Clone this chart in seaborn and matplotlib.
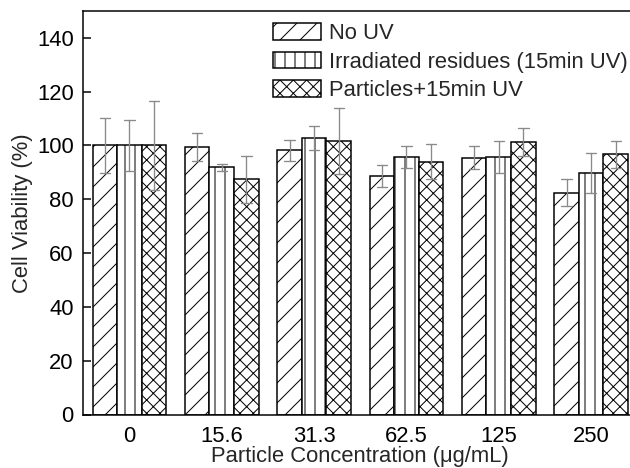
import numpy as np
import pandas as pd
import matplotlib
matplotlib.use("Agg")
import matplotlib.pyplot as plt
import seaborn as sns
from matplotlib.patches import Patch

concentrations = ["0", "15.6", "31.3", "62.5", "125", "250"]
series = ["No UV", "Irradiated residues (15min UV)", "Particles+15min UV"]
no_uv_mean = [100.0, 99.6, 98.2, 88.7, 95.4, 82.5]
no_uv_sd = [10.3, 5.2, 3.8, 4.2, 4.3, 4.9]
irr_mean = [100.0, 91.9, 102.7, 95.8, 95.7, 89.9]
irr_sd = [9.3, 1.2, 4.5, 4.0, 6.1, 7.4]
part_mean = [100.0, 87.5, 101.6, 94.0, 101.2, 96.8]
part_sd = [16.7, 8.7, 12.3, 6.6, 5.2, 5.0]
hatches = ["//", "||", "xxx"]

means = [no_uv_mean, irr_mean, part_mean]
sds = [no_uv_sd, irr_sd, part_sd]
rows = []
for s, m_list, sd_list in zip(series, means, sds):
    for c, m, sd in zip(concentrations, m_list, sd_list):
        rows.append({"conc": c, "group": s, "val": m - sd})
        rows.append({"conc": c, "group": s, "val": m + sd})
df = pd.DataFrame(rows)

sns.set_style("ticks")
plt.rcParams["font.family"] = ["Liberation Sans", "DejaVu Sans"]
plt.rcParams["hatch.linewidth"] = 0.6
plt.rcParams["hatch.color"] = "#333333"

dpi = 120
fs = 13.2
fig = plt.figure(figsize=(630 / dpi, 468 / dpi), dpi=dpi)
ax = fig.add_axes([83.3 / 630, 53.5 / 468, 554 / 630, 403.5 / 468])

sns.barplot(
    data=df, x="conc", y="val", hue="group", order=concentrations,
    hue_order=series, palette=["white"] * 3, estimator="mean",
    errorbar=lambda v: (v.min(), v.max()), width=0.8, gap=0,
    capsize=0.33, err_kws={"color": "#8a8a8a", "linewidth": 0.8},
    edgecolor="black", linewidth=0.9, ax=ax, legend=False,
)
for cont, h in zip(ax.containers, hatches):
    for bar in cont:
        bar.set_hatch(h)
        bar.set_edgecolor("black")

ax.set_ylim(0, 150)
ax.set_xlim(-0.5, 5.5)
ax.set_yticks([0, 20, 40, 60, 80, 100, 120, 140])
ax.tick_params(axis="both", direction="in", length=4.8, width=0.9,
               labelsize=fs, colors="black")
ax.tick_params(axis="y", pad=5.8)
ax.tick_params(axis="x", pad=7)
for sp in ax.spines.values():
    sp.set_visible(True)
    sp.set_linewidth(0.9)
    sp.set_color("black")
ax.set_xlabel("Particle Concentration (μg/mL)", fontsize=fs, labelpad=-0.8)
ax.set_ylabel("Cell Viability (%)", fontsize=fs, labelpad=2.3)

handles = [Patch(facecolor="white", edgecolor="black", hatch=h, linewidth=0.9)
           for h in hatches]
ax.legend(handles, series, loc="upper left", bbox_to_anchor=(0.342, 0.97),
          frameon=False, fontsize=fs, handlelength=2.2, handleheight=0.8,
          handletextpad=0.35, labelspacing=0.34, borderpad=0, borderaxespad=0)

fig.savefig("out.png", dpi=dpi)
